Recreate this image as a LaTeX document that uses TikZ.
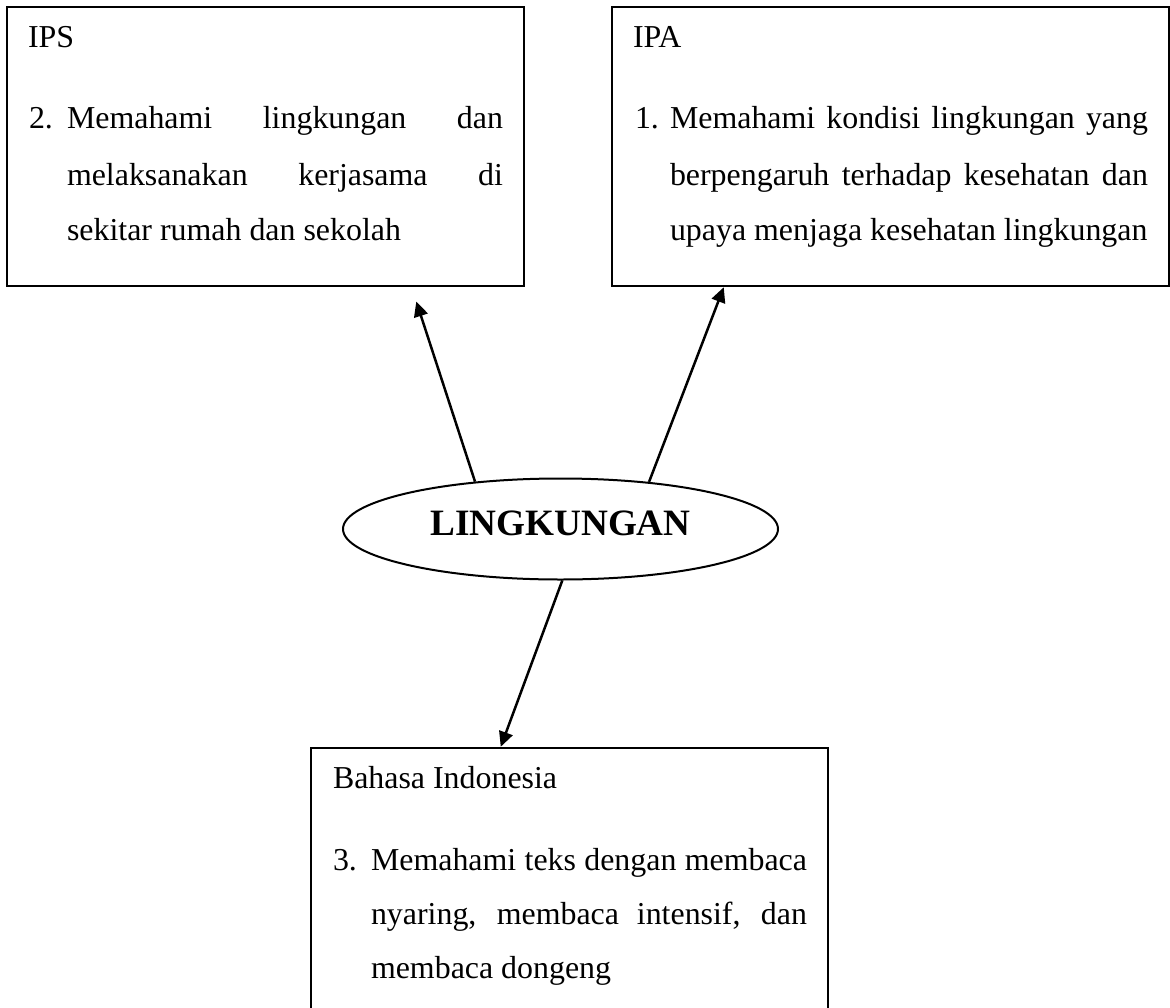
\documentclass[tikz,border=0pt]{standalone}
\usepackage{fontspec}
\setmainfont{Liberation Serif}
\usetikzlibrary{shapes.geometric,arrows.meta,calc}
\tikzset{
  box/.style={draw=black, line width=2.5pt, rectangle, inner sep=0pt},
  txt/.style={anchor=base west, inner sep=0pt, outer sep=0pt, font=\fontsize{31.9}{38}\selectfont},
  arr/.style={draw=black, line width=2.5pt, -{Triangle[length=15pt,width=14pt]}},
}
\begin{document}
\begin{tikzpicture}[x=1pt,y=-1pt]
\useasboundingbox (0,0) rectangle (1170,1007);
\clip (0,0) rectangle (1170,1007);
\fill[white] (0,0) rectangle (1170,1007);
% boxes
\node[box, minimum width=517pt, minimum height=279pt] (ips) at (265.5,146.5) {};
\node[box, minimum width=557pt, minimum height=279pt] (ipa) at (890.5,146.5) {};
\node[box, minimum width=517pt, minimum height=300pt] (bi) at (569.5,898) {};
% ellipse
\node[ellipse, draw=black, line width=2pt, minimum width=435pt, minimum height=101pt, inner sep=0pt] (ell) at (560.5,529) {};
\node[anchor=base, inner sep=0pt, font=\fontsize{37.2}{40}\selectfont\bfseries] (ellt) at (560.5,535) {LINGKUNGAN};
% IPS text
\node[txt] (ipsh) at (28,47) {IPS};
\node[txt] (ipsn) at (29,128) {2.};
\node[txt] (ips1) at (67,128) {\makebox[436pt][s]{Memahami lingkungan dan}};
\node[txt] (ips2) at (67,185) {\makebox[436pt][s]{melaksanakan kerjasama di}};
\node[txt] (ips3) at (67,240) {sekitar rumah dan sekolah};
% IPA text
\node[txt] (ipah) at (633,47) {IPA};
\node[txt] (ipan) at (635,128) {1.};
\node[txt] (ipa1) at (670,128) {\makebox[478pt][s]{Memahami kondisi lingkungan yang}};
\node[txt] (ipa2) at (670,185) {\makebox[478pt][s]{berpengaruh terhadap kesehatan dan}};
\node[txt] (ipa3) at (670,240) {upaya menjaga kesehatan lingkungan};
% Bahasa Indonesia text
\node[txt] (bih) at (333,788) {Bahasa Indonesia};
\node[txt] (bin) at (333,870) {3.};
\node[txt] (bi1) at (371,870) {\makebox[436pt][s]{Memahami teks dengan membaca}};
\node[txt] (bi2) at (371,924) {\makebox[436pt][s]{nyaring, membaca intensif, dan}};
\node[txt] (bi3) at (371,978) {membaca dongeng};
% arrows
\draw[arr, shorten >=15pt] (ell.151) -- ($(ips.south east)+(-113.6,0)$);
\draw[arr] (ell.28) -- ($(ipa.south west)+(113,0)$);
\draw[arr] (ell.272) -- ($(bi.north west)+(191,0)$);
\end{tikzpicture}
\end{document}
